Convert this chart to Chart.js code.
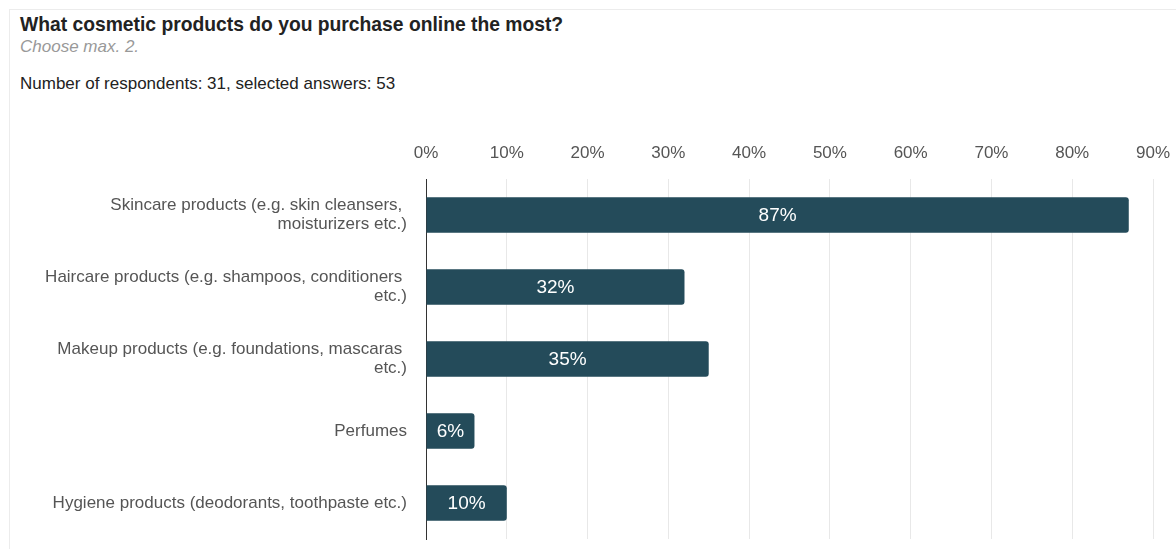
<!DOCTYPE html>
<html>
<head>
<meta charset="utf-8">
<script src="https://cdn.jsdelivr.net/npm/chart.js@4"></script>
<style>
	html, body { margin: 0; padding: 0; background: #fff; }
	body { width: 1176px; height: 549px; overflow: hidden; position: relative; font-family: Helvetica, Arial, "Liberation Sans", sans-serif; }
	.card { position: absolute; left: 9px; top: 9px; width: 1200px; height: 600px; border: 1px solid #ececec; }
	.title { position: absolute; left: 20px; top: 13px; font-size: 19.3px; font-weight: bold; color: #222; line-height: 24px; }
	.sub { position: absolute; left: 20px; top: 37px; font-size: 17px; font-style: italic; color: #999; line-height: 20px; }
	.count { position: absolute; left: 20px; top: 74px; font-size: 17px; color: #222; line-height: 20px; }
	#myChart { position: absolute; left: 0; top: 131px; }
</style>
</head>
<body>
<div class="card"></div>
<div class="title">What cosmetic products do you purchase online the most?</div>
<div class="sub">Choose max. 2.</div>
<div class="count">Number of respondents: 31, selected answers: 53</div>
<canvas id="myChart" width="1176" height="418"></canvas>
<script>
var categories = [
	["Skincare products (e.g. skin cleansers, ", "moisturizers etc.)"],
	["Haircare products (e.g. shampoos, conditioners ", "etc.)"],
	["Makeup products (e.g. foundations, mascaras ", "etc.)"],
	"Perfumes",
	"Hygiene products (deodorants, toothpaste etc.)"
];
var percents = [87, 32, 35, 6, 10];
var tickValues = [0, 10, 20, 30, 40, 50, 60, 70, 80, 90];

var FONT = "Helvetica, Arial, 'Liberation Sans', sans-serif";

// white % label in the middle of each bar
var barLabels = {
	id: 'barLabels',
	afterDatasetsDraw: function (chart)
	{
		var ctx = chart.ctx;
		var meta = chart.getDatasetMeta(0);
		ctx.save();
		ctx.fillStyle = '#fff';
		ctx.font = '19px ' + FONT;
		ctx.textAlign = 'center';
		ctx.textBaseline = 'middle';
		meta.data.forEach(function (bar, i)
		{
			var cx = (bar.base + bar.x) / 2;
			ctx.fillText(percents[i] + '%', cx, bar.y + 1);
		});
		ctx.restore();
	}
};

var ctx = document.getElementById('myChart');
var myChart = new Chart(ctx, {
	type: 'bar',
	data: {
		labels: categories,
		datasets: [{
			data: percents,
			backgroundColor: '#244b5a',
			borderRadius: { topLeft: 0, bottomLeft: 0, topRight: 3, bottomRight: 3 },
			borderSkipped: false,
			categoryPercentage: 1,
			barPercentage: 0.49
		}]
	},
	options: {
		indexAxis: 'y',
		responsive: false,
		animation: false,
		layout: { padding: { top: 0, right: 23, bottom: 10, left: 0 } },
		plugins: {
			legend: { display: false },
			tooltip: { enabled: false }
		},
		scales: {
			x: {
				position: 'top',
				min: 0,
				max: 90,
				afterBuildTicks: function (scale)
				{
					scale.ticks = tickValues.map(function (v) { return { value: v }; });
				},
				afterFit: function (scale)
				{
					scale.height = 48;
					scale.paddingLeft = 0;
					scale.paddingRight = 0;
				},
				ticks: {
					color: '#555',
					font: { family: FONT, size: 17 },
					padding: 15,
					maxRotation: 0,
					callback: function (v) { return v + '%'; }
				},
				grid: { color: '#e8e8e8', drawTicks: false },
				border: { display: false }
			},
			y: {
				afterFit: function (scale)
				{
					scale.width = 426;
					scale.paddingTop = 0;
					scale.paddingBottom = 0;
				},
				ticks: {
					color: '#555',
					font: { family: FONT, size: 17, lineHeight: 1.12 },
					padding: 19
				},
				grid: { display: false, drawTicks: false },
				border: { display: true, color: '#333', width: 1 }
			}
		}
	},
	plugins: [barLabels]
});
</script>
</body>
</html>
